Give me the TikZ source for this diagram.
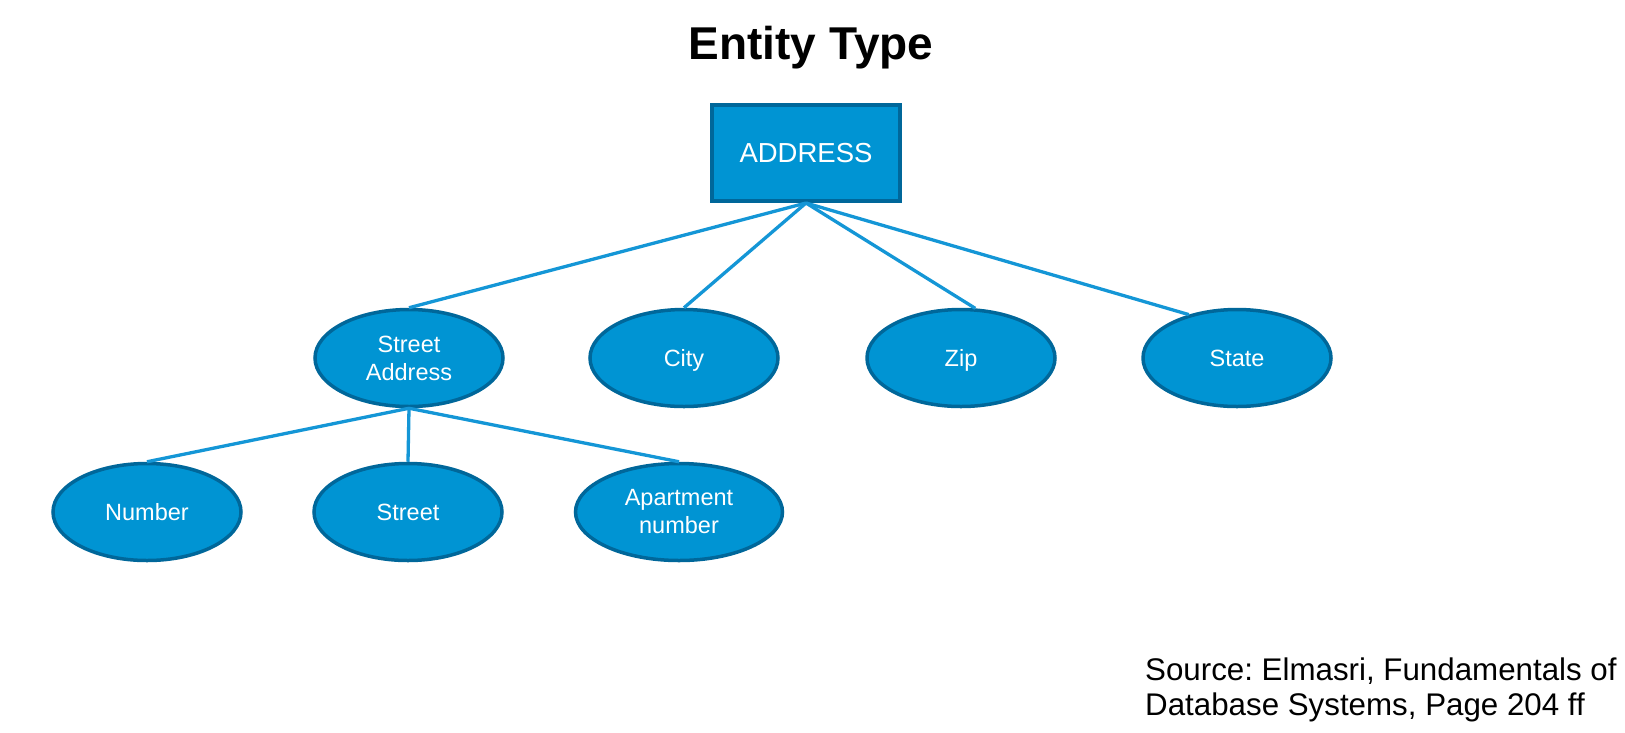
\documentclass[tikz,border=0pt]{standalone}
\usepackage{fontspec}
\setmainfont{Liberation Sans}
\usetikzlibrary{shapes.geometric}
\definecolor{efill}{HTML}{0094D3}
\definecolor{edraw}{HTML}{00679A}
\definecolor{eline}{HTML}{1496D6}
\frenchspacing
\begin{document}
\begin{tikzpicture}[x=1pt,y=-1pt,
  attr/.style={ellipse, fill=efill, draw=edraw, line width=3.5pt, minimum width=188pt, minimum height=97pt, inner sep=0pt, text=white, align=center, font=\fontsize{23.5}{28}\selectfont},
  oneline/.style={text height=16.8pt, text depth=0pt},
  ent/.style={rectangle, fill=efill, draw=edraw, line width=4pt, minimum width=188pt, minimum height=96pt, inner sep=0pt, text=white, font=\fontsize{27.5}{33}\selectfont, text height=19.7pt, text depth=0pt},
  conn/.style={draw=eline, line width=3.3pt}]
\useasboundingbox (0,0) rectangle (1625,732);
\node[font=\fontsize{46}{55}\selectfont\bfseries, anchor=base] (title) at (811,59) {Entity Type};
\node[ent] (addr) at (806,153) {ADDRESS};
\node[attr] (sa) at (409,358) {Street\\Address};
\node[attr, oneline] (city) at (684,358) {City};
\node[attr, oneline] (zip) at (961,358) {Zip};
\node[attr, oneline] (state) at (1237,358) {State};
\node[attr, oneline] (num) at (147,512) {Number};
\node[attr, oneline] (street) at (408,512) {Street};
\node[attr, minimum width=207pt] (apt) at (679,512) {Apartment\\number};
\draw[conn] (addr.south) -- (sa.north);
\draw[conn] (addr.south) -- (city.north);
\draw[conn] (addr.south) -- (zip.74);
\draw[conn] (addr.south) -- (state.138);
\draw[conn] (sa.south) -- (num.north);
\draw[conn] (sa.south) -- (street.north);
\draw[conn] (sa.south) -- (apt.north);
\node[anchor=base west, align=left, font=\fontsize{31.3}{34.6}\selectfont, inner sep=0pt] (src) at (1145,715) {Source: Elmasri, Fundamentals of\\Database Systems, Page 204 ff};
\end{tikzpicture}
\end{document}
